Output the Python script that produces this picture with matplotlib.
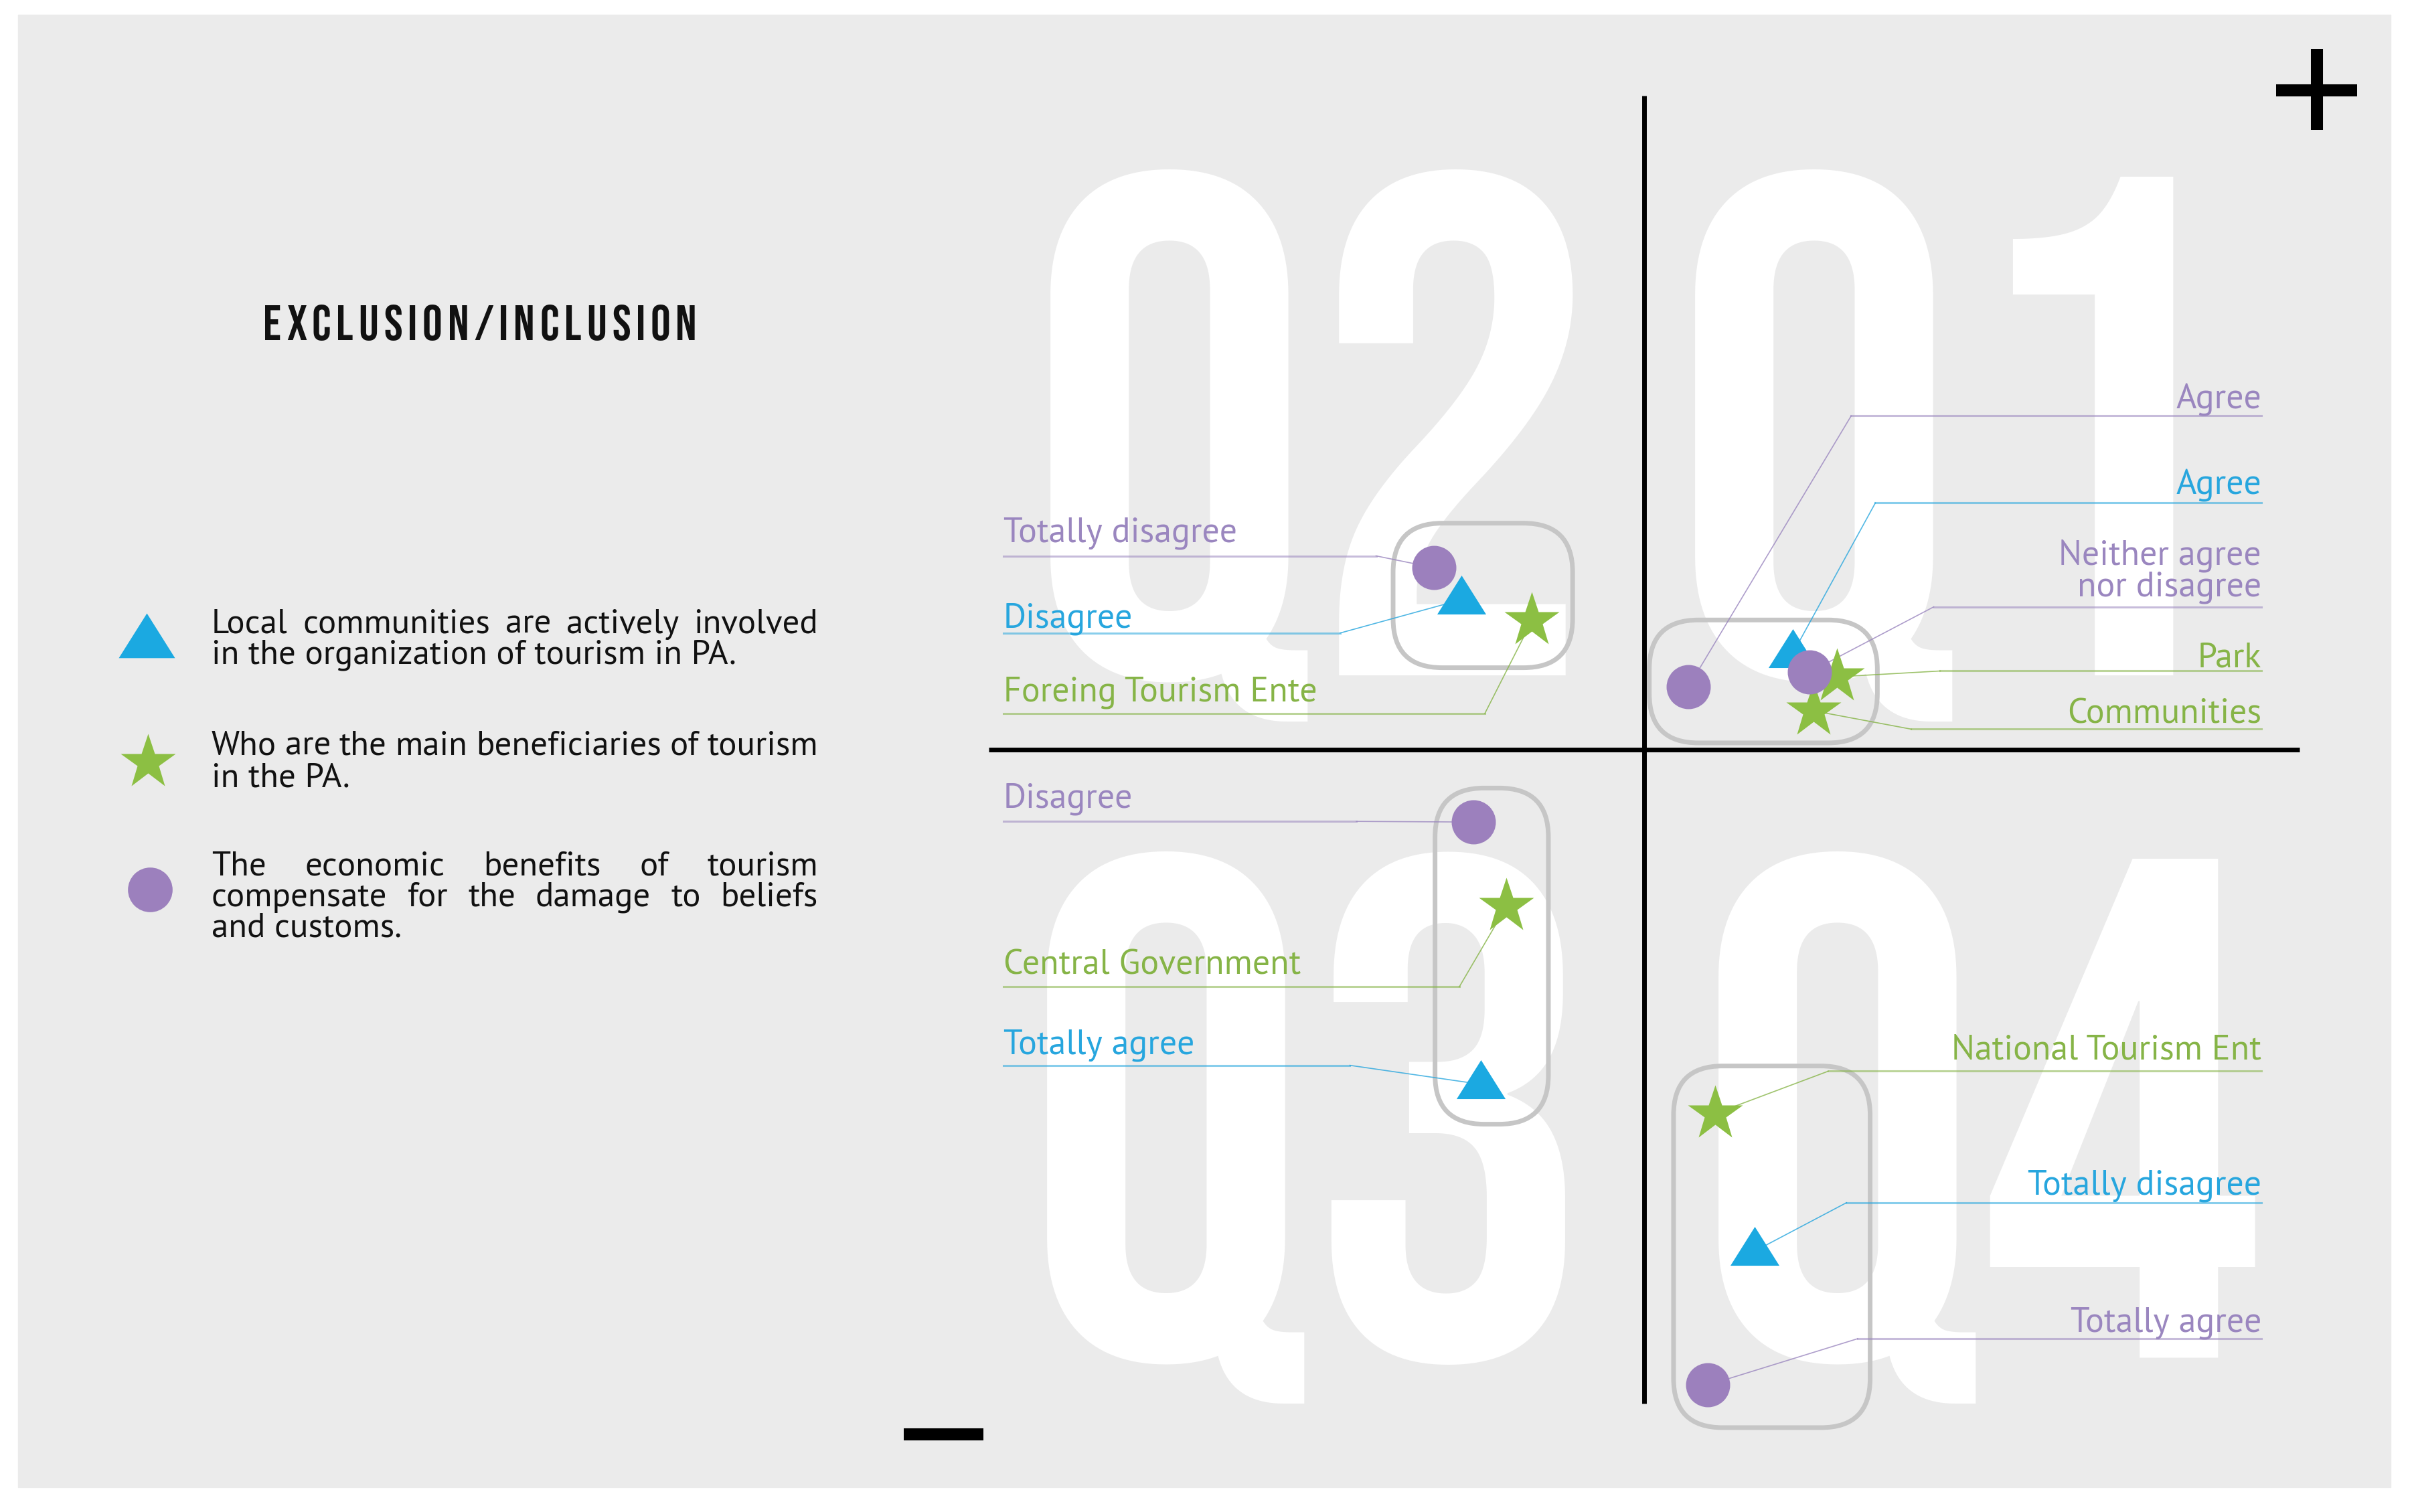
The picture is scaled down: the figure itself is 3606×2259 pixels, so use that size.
import os
import matplotlib
matplotlib.use("Agg")
import matplotlib.pyplot as plt
from matplotlib import font_manager as fm
from matplotlib.patches import FancyBboxPatch, Rectangle
from matplotlib.path import Path
from matplotlib.textpath import TextPath

BLUE = "#1ba9e1"
GREEN = "#8cbf43"
PURPLE = "#9c80bd"
TXT = {"tri": "#27a6de", "star": "#86b447", "circ": "#9a86bf"}

# triangles: local communities involved in tourism organisation
tri_labels = ["Disagree", "Agree", "Totally agree", "Totally disagree"]
tri_x = [-0.279, 0.227, -0.249, 0.169]
tri_y = [0.229, 0.147, -0.512, -0.767]

# stars: main beneficiaries of tourism
star_labels = ["Foreing Tourism Ente", "Park", "Communities",
               "Central Government", "National Tourism Ent"]
star_x = [-0.171, 0.294, 0.259, -0.210, 0.108]
star_y = [0.197, 0.111, 0.059, -0.240, -0.557]

# circles: economic benefits compensate damage
circ_labels = ["Totally disagree", "Agree", "Neither agree\nnor disagree",
               "Disagree", "Totally agree"]
circ_x = [-0.321, 0.068, 0.252, -0.260, 0.097]
circ_y = [0.278, 0.096, 0.118, -0.111, -0.972]

quadrants = ["Q2", "Q1", "Q3", "Q4"]
legend_lines = [
    ["Local communities are actively involved",
     "in the organization of tourism in PA."],
    ["Who are the main beneficiaries of tourism", "in the PA."],
    ["The economic benefits of tourism",
     "compensate for the damage to beliefs", "and customs."],
]
title = "EXCLUSION/INCLUSION"

series = {
    "tri": (tri_x, tri_y, tri_labels),
    "star": (star_x, star_y, star_labels),
    "circ": (circ_x, circ_y, circ_labels),
}

# label layout: series, index, side, baseline y (last line), underline y, elbow x
label_layout = [
    ("circ", 0, "L", 0.317, 0.296, -0.409),
    ("tri", 0, "L", 0.187, 0.178, -0.464),
    ("star", 0, "L", 0.074, 0.055, -0.243),
    ("circ", 3, "L", -0.089, -0.110, -0.439),
    ("star", 3, "L", -0.343, -0.363, -0.282),
    ("tri", 2, "L", -0.465, -0.483, -0.449),
    ("circ", 1, "R", 0.521, 0.510, 0.316),
    ("tri", 1, "R", 0.390, 0.377, 0.353),
    ("circ", 2, "R", 0.235, 0.218, 0.442),
    ("star", 1, "R", 0.126, 0.120, 0.452),
    ("star", 2, "R", 0.040, 0.031, 0.408),
    ("star", 4, "R", -0.474, -0.492, 0.281),
    ("tri", 3, "R", -0.680, -0.693, 0.309),
    ("circ", 4, "R", -0.890, -0.901, 0.326),
]
cluster_boxes = [(-0.383, 0.125, -0.109, 0.346), (0.008, 0.010, 0.356, 0.198),
                 (-0.319, -0.573, -0.146, -0.059), (0.045, -1.037, 0.345, -0.484)]


def find_font(prefixes, fallback):
    for p in prefixes:
        for f in fm.fontManager.ttflist:
            if os.path.basename(f.fname).lower().startswith(p.lower()):
                return fm.FontProperties(fname=f.fname)
    return fm.FontProperties(family=fallback)


cond_bold = fm.FontProperties(family=["Bebas Neue", "DejaVu Sans"])
body = find_font(["SourceSans3-Regular.", "SourceSansPro-Regular.",
                  "PT_Sans-Web-Regular", "PTSans-Regular", "Lato-Regular"],
                 ["Lato", "DejaVu Sans"])

W, H = 3606, 2259
fig = plt.figure(figsize=(W / 100, H / 100), dpi=100)
fig.patch.set_facecolor("white")
ax = fig.add_axes([0, 0, 1, 1])
ax.set_xlim(-2.509, 1.175)
ax.set_ylim(-1.166, 1.146)
ax.axis("off")
renderer = fig.canvas.get_renderer()

ax.add_patch(Rectangle((27 / W, 1 - 2222 / H), 3544 / W, 2200 / H,
                       transform=ax.transAxes, color="#ebebeb", zorder=0))


def text_width(s, fp, size):
    t = fig.text(0, 0, s, fontproperties=fp, size=size)
    w = t.get_window_extent(renderer).width
    t.remove()
    return w


def fit_size(s, fp, target_px):
    return 100 * target_px / text_width(s, fp, 100)


# watermark quadrant names
tp = TextPath((0, 0), "H", size=100, prop=cond_bold)
wm_size = 100 * 745 / (tp.get_extents().height * 100 / 72)
wm_pos = [(-0.507, 0.113), (0.477, 0.113), (-0.512, -0.930), (0.513, -0.930)]
for q, (qx, qy) in zip(quadrants, wm_pos):
    ax.text(qx, qy, q, fontproperties=cond_bold, size=wm_size, color="white",
            ha="center", va="baseline", zorder=1)

# quadrant axes and +/- signs
ax.plot([-1, 1], [0, 0], color="black", lw=5, solid_capstyle="butt", zorder=2)
ax.plot([0, 0], [-1, 1], color="black", lw=5, solid_capstyle="butt", zorder=2)
ax.plot([1.027, 1.027], [0.947, 1.071], color="black", lw=13, solid_capstyle="butt")
ax.plot([0.965, 1.088], [1.008, 1.008], color="black", lw=13, solid_capstyle="butt")
ax.plot([-1.130, -1.008], [-1.047, -1.047], color="black", lw=13, solid_capstyle="butt")

for x0, y0, x1, y1 in cluster_boxes:
    r = min(0.075, (x1 - x0) / 2.2)
    ax.add_patch(FancyBboxPatch((x0 + r, y0 + r), x1 - x0 - 2 * r, y1 - y0 - 2 * r,
                                boxstyle="round,pad=%f,rounding_size=%f" % (r, r),
                                fill=False, ec="#c6c6c6", lw=5, zorder=2))

tri_marker = Path([(0, 1), (-1, -0.59), (1, -0.59), (0, 1)])
marker_style = {
    "tri": dict(marker=tri_marker, ms=52.6, color=BLUE),
    "star": dict(marker="*", ms=62, color=GREEN),
    "circ": dict(marker="o", ms=47.5, color=PURPLE),
}

lab_size = fit_size("Central Government", body, 445)
for key, i, side, by, ly, ex in label_layout:
    xs, ys, labels = series[key]
    col = TXT[key]
    tx = -0.978 if side == "L" else 0.942
    ax.text(tx, by, labels[i], fontproperties=body, size=lab_size, color=col,
            ha="left" if side == "L" else "right", va="baseline",
            multialignment="right", linespacing=0.95, zorder=3)
    ax.plot([tx, ex], [ly, ly], color=col, lw=2.2, alpha=0.55, zorder=3)
    ax.plot([ex, xs[i]], [ly, ys[i]], color=col, lw=1.2, alpha=0.8, zorder=3)

for key, (xs, ys, _) in series.items():
    st = marker_style[key]
    ax.plot(xs, ys, ls="none", marker=st["marker"], ms=st["ms"],
            color=st["color"], mec="none", zorder=5)

# title, tracked out letter by letter
tp = TextPath((0, 0), "E", size=100, prop=cond_bold)
t_size = 100 * 52 / (tp.get_extents().height * 100 / 72)
cw = [text_width(c, cond_bold, t_size) for c in title]
gap = (648 - sum(cw)) / (len(title) - 1)
cx = 393
for c, w in zip(title, cw):
    fig.text(cx / W, 1 - 508 / H, c, fontproperties=cond_bold, size=t_size,
             color="#111111", va="baseline")
    cx += w + gap

# legend
leg_x = [-2.285, -2.283, -2.280]
leg_y = [0.166, -0.020, -0.214]
for key, lx, ly in zip(["tri", "star", "circ"], leg_x, leg_y):
    st = marker_style[key]
    ms = {"tri": 60.5, "star": 62, "circ": 48}[key]
    ax.plot([lx], [ly], ls="none", marker=st["marker"], ms=ms,
            color=st["color"], mec="none")

leg_size = fit_size("in the organization of tourism in PA.", body, 785)
baselines = [[946, 992], [1128, 1175], [1308, 1354, 1399]]
x_left, x_right = 316, 1222
for para, bls in zip(legend_lines, baselines):
    for j, (line, bl) in enumerate(zip(para, bls)):
        yf = 1 - bl / H
        if j == len(para) - 1:
            fig.text(x_left / W, yf, line, fontproperties=body, size=leg_size,
                     color="#111111", va="baseline")
            continue
        words = line.split()
        widths = [text_width(w, body, leg_size) for w in words]
        gap = (x_right - x_left - sum(widths)) / (len(words) - 1)
        cx = x_left
        for w, wd in zip(words, widths):
            fig.text(cx / W, yf, w, fontproperties=body, size=leg_size,
                     color="#111111", va="baseline")
            cx += wd + gap

fig.savefig("out.png", dpi=100, facecolor="white")
